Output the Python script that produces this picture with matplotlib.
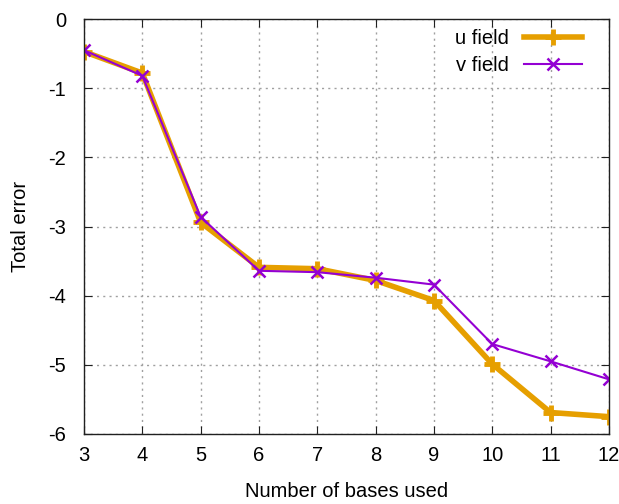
import matplotlib
matplotlib.use("Agg")
import matplotlib.pyplot as plt

# ошибка реконструкции в зависимости от числа базисных функций
bases = [3, 4, 5, 6, 7, 8, 9, 10, 11, 12]
u_err = [-0.47, -0.78, -2.94, -3.59, -3.61, -3.78, -4.07, -4.99, -5.69, -5.75]
v_err = [-0.45, -0.82, -2.86, -3.64, -3.66, -3.74, -3.84, -4.70, -4.95, -5.21]

plt.rcParams["font.family"] = ["Liberation Sans", "DejaVu Sans"]
plt.rcParams["font.size"] = 14.5
plt.rcParams["axes.unicode_minus"] = False

fig = plt.figure(figsize=(6.19, 5.04), dpi=100)
ax = fig.add_axes([0.1357, 0.139, 0.848, 0.823])

ax.plot(bases, u_err, color="#E69F00", lw=4, marker="+", ms=11, mew=3.5,
        label="u field")
ax.plot(bases, v_err, color="#9400D3", lw=1.5, marker="x", ms=8, mew=1.8,
        label="v field")

ax.set_xlim(3, 12)
ax.set_ylim(-6, 0)
ax.set_xticks(bases)
ax.set_yticks(range(-6, 1))

ax.grid(True, color="#a0a0a0", linestyle=(0, (1.5, 3)), linewidth=1)
ax.tick_params(direction="in", top=True, right=True, length=6,
               color="#202020", labelsize=14.5)
ax.tick_params(axis="x", pad=9)
ax.tick_params(axis="y", pad=13)
for sp in ax.spines.values():
    sp.set_color("#202020")
    sp.set_linewidth(1)

ax.set_xlabel("Number of bases used", labelpad=12)
ax.set_ylabel("Total error", labelpad=13)

ax.legend(loc="upper right", bbox_to_anchor=(0.949, 0.976),
          frameon=False, markerfirst=False,
          handlelength=2.9, handletextpad=0.75, labelspacing=0.38,
          borderaxespad=0, borderpad=0)

fig.savefig("out.png", dpi=100)
